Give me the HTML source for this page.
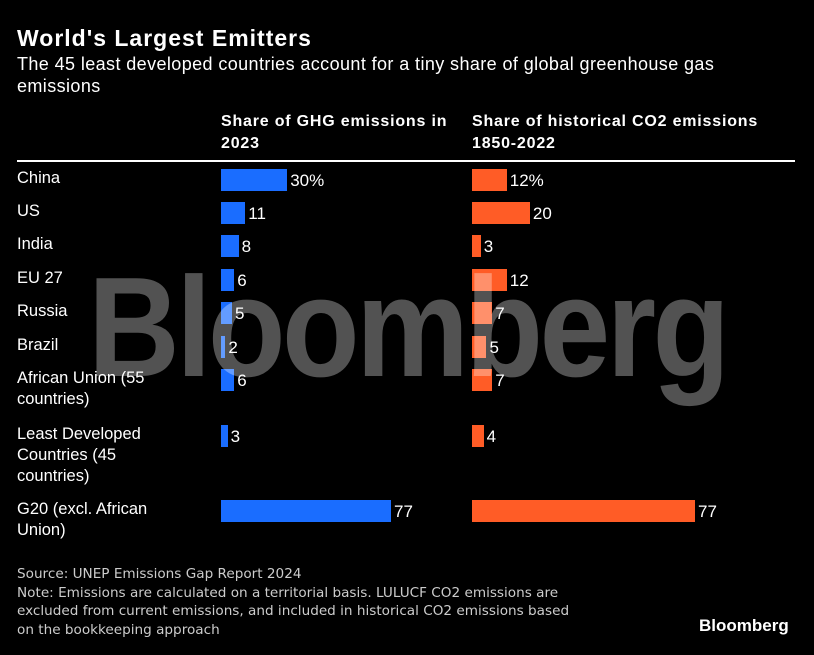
<!DOCTYPE html>
<html><head><meta charset="utf-8"><style>
body{margin:0;background:#000;width:814px;height:655px;overflow:hidden;font-family:"Liberation Sans",sans-serif;color:#fff;position:relative}
.a{position:absolute;white-space:nowrap}
.lab{font-size:16.5px;line-height:21px}
</style></head><body>
<div class="a" style="left:17px;top:25px;font-size:23px;font-weight:bold;letter-spacing:1px">World's Largest Emitters</div>
<div class="a" style="left:17px;top:53px;font-size:18px;letter-spacing:0.4px;line-height:22px;white-space:normal;width:750px">The 45 least developed countries account for a tiny share of global greenhouse gas emissions</div>
<div class="a" style="left:221px;top:111px;font-size:16px;font-weight:bold;line-height:22px;letter-spacing:0.8px">Share of GHG emissions in<br>2023</div>
<div class="a" style="left:472px;top:111px;font-size:16px;font-weight:bold;line-height:22px;letter-spacing:0.8px">Share of historical CO2 emissions<br>1850-2022</div>
<div class="a" style="left:17px;top:160px;width:778px;height:2px;background:#fff"></div>
<div id="rows"></div>
<div class="a" style="left:88px;top:246px;font-size:142px;font-weight:bold;letter-spacing:-4px;color:rgba(255,255,255,0.32);transform:scaleX(0.895);transform-origin:left top">Bloomberg</div>
<div class="a" style="left:17px;top:565px;line-height:18.7px;color:#ccc;font-family:'DejaVu Sans',sans-serif;font-size:13.6px">Source: UNEP Emissions Gap Report 2024<br>Note: Emissions are calculated on a territorial basis. LULUCF CO2 emissions are<br>excluded from current emissions, and included in historical CO2 emissions based<br>on the bookkeeping approach</div>
<div class="a" style="left:699px;top:616px;font-size:17px;font-weight:bold">Bloomberg</div>
<script>
const categories=["China","US","India","EU 27","Russia","Brazil","African Union (55<br>countries)","Least Developed<br>Countries (45<br>countries)","G20 (excl. African<br>Union)"];
const ghgValues=[30,11,8,6,5,2,6,3,77];
const co2Values=[12,20,3,12,7,5,7,4,77];
const rowCenters=[180,213,246,280,313,347,380,436,511];
const labelTops=[168,201,234,268,301,335,368,424,499];
const xGhg=v=>v*170/77, xCo2=v=>v*223/77;
const root=document.getElementById('rows');
function add(html,style,name){const d=document.createElement('div');d.className='a';d.innerHTML=html;d.style.cssText=style;


root.appendChild(d);return d;}
categories.forEach((c,i)=>{
 const cy=rowCenters[i];
 add(c,`left:17px;top:${labelTops[i]}px;`,'row-label').className='a lab';
 const wg=xGhg(ghgValues[i]);
 add('',`left:221px;top:${cy-11}px;width:${wg}px;height:22px;background:#1a6dff`,'ghg-bar');
 add(ghgValues[i]+(i===0?'%':''),`left:${221+wg+3}px;top:${cy-9}px;font-size:17px`,'ghg-value');
 const wc=xCo2(co2Values[i]);
 add('',`left:472px;top:${cy-11}px;width:${wc}px;height:22px;background:#ff5c26`,'co2-bar');
 add(co2Values[i]+(i===0?'%':''),`left:${472+wc+3}px;top:${cy-9}px;font-size:17px`,'co2-value');
});
</script>
</body></html>
